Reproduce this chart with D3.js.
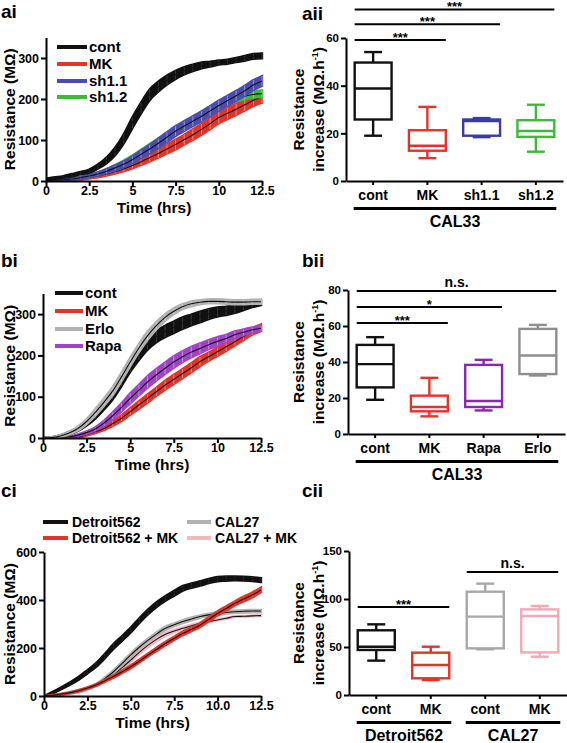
<!DOCTYPE html>
<html><head><meta charset="utf-8">
<script src="https://cdn.jsdelivr.net/npm/d3@7"></script>
<style>
body{margin:0;background:#fff}
svg text{font-family:"Liberation Sans",Arial,Helvetica,sans-serif;font-weight:bold;fill:#000}
</style>
</head><body><svg id="c" width="567" height="743"></svg>
<script>
// ---------- time axis ----------
const time = [0,0.5,1,1.5,2,2.5,3,3.5,4,4.5,5,5.5,6,6.5,7,7.5,8,8.5,9,9.5,10,10.5,11,11.5,12,12.5];
const timeTicks = [0,2.5,5,7.5,10,12.5];
const timeLabelsAB = ["0","2.5","5","7.5","10","12.5"];
const timeLabelsC = ["0","2.5","5.0","7.5","10.0","12.5"];

// ---------- panel ai ----------
const aiCont    = [4,7,10,14,19,24,35,50,72,103,142,178,210,230,246,259,269,276,282,285,289,291,295,299,304,305];
const aiContErr = [2,2,2,3,3,4,5,7,9,11,13,13,13,12,11,10,9,8,7,6,5,5,5,6,6,6];
const aiMK      = [1,1,2,3,5,8,12,17,23,30,38,47,57,67,78,89,101,113,126,140,155,165,175,186,197,205];
const aiMKErr   = [0,1,1,1,2,2,3,4,5,6,7,8,9,10,11,12,12,13,13,14,14,14,14,14,14,14];
const aiSh11    = [2,2,3,5,8,12,17,24,32,41,52,65,78,92,107,122,134,146,158,171,184,196,208,220,234,244];
const aiSh11Err = [1,1,1,2,2,3,4,5,6,7,8,9,10,11,12,12,12,12,12,12,12,12,12,12,12,12];
const aiSh12    = [2,2,3,5,8,12,18,25,34,44,55,68,82,96,110,124,136,148,160,172,184,194,202,207,211,213];
const aiSh12Err = [1,1,1,2,2,3,3,4,5,6,7,8,8,8,8,8,8,8,8,8,8,8,8,8,8,8];
const aiYTicks = [0,100,200,300];

// ---------- panel aii ----------
const aiiCats  = ["cont","MK","sh1.1","sh1.2"];
// [min, q1, median, q3, max]
const aiiStats = [[19,25.8,38.8,49.7,54.1],[9.6,12.7,14.8,21.3,31.1],[18.4,19,25.2,25.8,26.4],[12.3,18.5,21,25.5,32]];
const aiiYTicks = [0,20,40,60];
const aiiSig = [{from:0,to:1,level:59.2,label:"***"},{from:0,to:2,level:65.8,label:"***"},{from:0,to:3,level:72,label:"***"}];
const aiiGroups = [{label:"CAL33",from:0,to:3}];

// ---------- panel bi ----------
const biCont    = [0,1,5,12,21,35,53,76,102,136,172,202,228,246,258,268,278,286,293,300,305,308,312,318,324,328];
const biContErr = [0,1,2,3,4,5,6,7,8,10,12,13,14,14,14,14,14,13,13,12,11,10,9,8,7,6];
const biMK      = [0,0,1,2,3,8,15,23,35,48,64,80,96,112,128,142,156,170,185,197,209,221,233,246,258,267];
const biMKErr   = [0,0,0,1,1,2,3,4,6,7,8,9,10,10,11,11,11,11,11,10,10,10,9,9,8,8];
const biErlo    = [0,1,5,12,23,40,62,87,114,148,184,218,248,272,292,307,318,325,329,331,331,330,329,329,330,330];
const biErloErr = [0,1,2,3,5,6,8,9,10,10,10,10,10,9,8,7,6,6,5,5,5,5,5,5,5,5];
const biRapa    = [0,0,1,3,7,13,22,36,54,74,96,116,136,153,169,184,197,208,217,226,234,241,250,256,262,266];
const biRapaErr = [0,0,1,1,2,3,4,6,8,10,12,13,14,14,14,14,13,13,12,11,10,9,8,7,6,6];
const biYTicks = [0,100,200,300];

// ---------- panel bii ----------
const biiCats  = ["cont","MK","Rapa","Erlo"];
const biiStats = [[19,25.9,38.8,49.5,53.8],[9.8,12.6,15,21.3,31.2],[13.1,15,18.3,38.4,41.2],[32.5,33.3,43.6,58.4,60.6]];
const biiYTicks = [0,20,40,60,80];
const biiSig = [{from:0,to:1,level:61.7,label:"***"},{from:0,to:2,level:70.6,label:"*"},{from:0,to:3,level:79.5,label:"n.s."}];
const biiGroups = [{label:"CAL33",from:0,to:3}];

// ---------- panel ci ----------
const ciDet      = [0,14,32,52,74,101,129,166,206,240,275,315,351,382,407,428,449,460,469,479,487,489,490,489,487,483];
const ciDetErr   = [0,3,4,5,6,7,8,9,10,10,10,10,10,10,10,10,10,9,9,9,9,9,8,8,8,8];
const ciDetMK    = [0,3,8,14,22,33,46,63,81,101,122,146,171,195,219,240,261,278,296,320,344,365,386,404,421,442];
const ciDetMKErr = [0,1,2,2,3,3,4,4,5,5,6,6,6,7,7,7,8,8,8,9,9,9,9,10,10,10];
const ciCal      = [0,3,7,11,18,30,46,72,101,136,171,204,233,259,282,297,310,321,331,338,344,348,351,353,354,354];
const ciCalErr   = [0,1,1,2,2,3,4,5,6,6,7,7,7,7,7,6,6,6,5,5,5,5,5,5,5,5];
const ciCalMK    = [0,3,7,11,18,30,46,65,88,118,150,183,212,237,257,271,282,293,303,310,317,324,331,332,334,335];
const ciCalMKErr = [0,1,1,2,2,3,4,5,6,7,8,8,8,8,7,6,5,4,3,2,2,2,2,2,2,2];
const ciYTicks = [0,200,400,600];

// ---------- panel cii ----------
const ciiCats  = ["cont","MK","cont","MK"];
const ciiStats = [[35.8,46.9,50.3,67.4,73.6],[15.6,17.4,31.2,44.1,50.3],[47.6,48.6,81.6,107.6,116],[39.9,44.4,82.3,89.2,92.7]];
const ciiYTicks = [0,50,100,150];
const ciiSig = [{from:0,to:1,level:91.7,label:"***"},{from:2,to:3,level:128,label:"n.s."}];
const ciiGroups = [{label:"Detroit562",from:0,to:1},{label:"CAL27",from:2,to:3}];

// ---------- colours ----------
const C = {black:"#111", red:"#e3342a", blue:"#4a4cb0", green:"#3dba3a", gray:"#b2b2b2",
           purple:"#a142c9", pink:"#f6b7c0", boxBlue:"#3a3ca4", boxPurple:"#8a28b2", boxGray:"#8e8e8e", boxGray2:"#a8a8a8", boxPink:"#f3a9b5"};

const svg = d3.select("#c");

function styleAxis(g, fs){
  g.attr("font-family",null).attr("font-size",null);
  g.select(".domain").attr("stroke","#000").attr("stroke-width",2);
  g.selectAll(".tick line").attr("stroke","#000").attr("stroke-width",2);
  g.selectAll(".tick text").attr("font-size",fs).attr("fill","#000");
}

function lineChart(cfg){
  const g = svg.append("g");
  const x = d3.scaleLinear().domain([0,12.5]).range([cfg.x0,cfg.x1]);
  const y = d3.scaleLinear().domain([0,cfg.ymax]).range([cfg.y0,cfg.ytop]);
  const clipId = "clip"+cfg.id;
  g.append("clipPath").attr("id",clipId).append("rect")
    .attr("x",cfg.x0).attr("y",cfg.ytop-10).attr("width",cfg.x1-cfg.x0+6).attr("height",cfg.y0-cfg.ytop+10);
  const pg = g.append("g").attr("clip-path",`url(#${clipId})`);
  cfg.series.forEach(s=>{
    const area = d3.area().x((d,i)=>x(time[i])).y0((d,i)=>y(s.v[i]-s.e[i])).y1((d,i)=>y(s.v[i]+s.e[i])).curve(d3.curveMonotoneX);
    pg.append("path").datum(s.v).attr("d",area).attr("fill",s.color).attr("stroke",s.color).attr("stroke-width",2.4);
    // error bar ticks
    pg.selectAll(null).data(s.v).enter().append("line")
      .attr("x1",(d,i)=>x(time[i])).attr("x2",(d,i)=>x(time[i]))
      .attr("y1",(d,i)=>y(d+s.e[i])).attr("y2",(d,i)=>y(d-s.e[i]))
      .attr("stroke", s.tick).attr("stroke-width",0.7).attr("opacity",0.6);
    const line = d3.line().x((d,i)=>x(time[i])).y(d=>y(d)).curve(d3.curveMonotoneX);
    pg.append("path").datum(s.v).attr("d",line).attr("fill","none").attr("stroke","#111").attr("stroke-width",1.1);
  });
  const ya = g.append("g").attr("transform",`translate(${cfg.x0},0)`)
    .call(d3.axisLeft(y).tickValues(cfg.yticks).tickSize(5).tickSizeOuter(0).tickPadding(2));
  styleAxis(ya,12.5);
  const xa = g.append("g").attr("transform",`translate(0,${cfg.y0})`)
    .call(d3.axisBottom(x).tickValues(timeTicks).tickFormat((d,i)=>cfg.xlabels[i]).tickSize(5).tickSizeOuter(0).tickPadding(0));
  styleAxis(xa,12.5);
  g.append("text").attr("x",(cfg.x0+cfg.x1)/2).attr("y",cfg.y0+32).attr("text-anchor","middle").attr("font-size",15.5).text("Time (hrs)");
  g.append("text").attr("transform",`translate(14.5,${(cfg.y0+cfg.ytop)/2}) rotate(-90)`).attr("text-anchor","middle").attr("font-size",15.5).text("Resistance (MΩ)");
  // legend
  cfg.legend.forEach(l=>{
    g.append("line").attr("x1",l.x).attr("x2",l.x+l.w).attr("y1",l.y).attr("y2",l.y).attr("stroke",l.color).attr("stroke-width",4);
    g.append("text").attr("x",l.x+l.w+l.gap).attr("y",l.y+5).attr("font-size",l.fs).text(l.label);
  });
}

function boxChart(cfg){
  const g = svg.append("g");
  const x = d3.scaleBand().domain(cfg.cats.map((c,i)=>i)).range([cfg.x0,cfg.x1]);
  const y = d3.scaleLinear().domain([0,cfg.ymax]).range([cfg.y0,cfg.ytop]);
  const bw = x.bandwidth()*0.68, cw = x.bandwidth()*0.33;
  const cx = i=>x(i)+x.bandwidth()/2;
  cfg.stats.forEach((s,i)=>{
    const c = cfg.colors[i], xc = cx(i);
    const bg = g.append("g").attr("stroke",c).attr("stroke-width",2.4).attr("fill","none");
    bg.append("line").attr("x1",xc).attr("x2",xc).attr("y1",y(s[0])).attr("y2",y(s[1]));
    bg.append("line").attr("x1",xc).attr("x2",xc).attr("y1",y(s[3])).attr("y2",y(s[4]));
    bg.append("line").attr("x1",xc-cw/2).attr("x2",xc+cw/2).attr("y1",y(s[0])).attr("y2",y(s[0]));
    bg.append("line").attr("x1",xc-cw/2).attr("x2",xc+cw/2).attr("y1",y(s[4])).attr("y2",y(s[4]));
    bg.append("rect").attr("x",xc-bw/2).attr("width",bw).attr("y",y(s[3])).attr("height",y(s[1])-y(s[3])).attr("fill","#fff");
    bg.append("line").attr("x1",xc-bw/2).attr("x2",xc+bw/2).attr("y1",y(s[2])).attr("y2",y(s[2]));
  });
  const ya = g.append("g").attr("transform",`translate(${cfg.x0},0)`)
    .call(d3.axisLeft(y).tickValues(cfg.yticks).tickSize(5).tickSizeOuter(0).tickPadding(2));
  styleAxis(ya,11.5);
  const xa = g.append("g").attr("transform",`translate(0,${cfg.y0})`)
    .call(d3.axisBottom(x).tickFormat(i=>cfg.cats[i]).tickSize(4).tickSizeOuter(0).tickPadding(5));
  styleAxis(xa,14);
  // significance bars
  cfg.sig.forEach(s=>{
    const xl = cx(s.from)-bw/2, xr = cx(s.to)+bw/2, yy = y(s.level);
    g.append("line").attr("x1",xl).attr("x2",xr).attr("y1",yy).attr("y2",yy).attr("stroke","#000").attr("stroke-width",2);
    const star = s.label.indexOf("*")>=0;
    g.append("text").attr("x",(xl+xr)/2).attr("y",star?yy+2:yy-4).attr("text-anchor","middle")
      .attr("font-size",star?13:14).text(s.label);
  });
  // group underline
  cfg.groups.forEach(gr=>{
    const xl = cx(gr.from)-bw/2-1, xr = cx(gr.to)+bw/2+2;
    g.append("line").attr("x1",xl).attr("x2",xr).attr("y1",cfg.y0+27.5).attr("y2",cfg.y0+27.5).attr("stroke","#000").attr("stroke-width",3);
    g.append("text").attr("x",(xl+xr)/2).attr("y",cfg.y0+46).attr("text-anchor","middle").attr("font-size",16).text(gr.label);
  });
  const mid = (cfg.y0+cfg.ytop)/2;
  g.append("text").attr("transform",`translate(304,${mid}) rotate(-90)`).attr("text-anchor","middle").attr("font-size",15.5).text("Resistance");
  const t2 = g.append("text").attr("transform",`translate(324,${mid}) rotate(-90)`).attr("text-anchor","middle").attr("font-size",15.5);
  t2.append("tspan").text("increase (MΩ.h");
  t2.append("tspan").attr("font-size",9).attr("dy",-6).text("-1");
  t2.append("tspan").attr("dy",6).text(")");
}

function title(t,x,yb){ svg.append("text").attr("x",x).attr("y",yb).attr("font-size",19).text(t); }

// ---------- draw ----------
title("ai",1,18); title("aii",302,20);
title("bi",1,267); title("bii",302,267);
title("ci",1,497); title("cii",302,497);

lineChart({id:"ai",x0:46,x1:262,y0:181,ytop:37.5,ymax:350,yticks:aiYTicks,xlabels:timeLabelsAB,
  series:[
    {v:aiMK,e:aiMKErr,color:C.red,tick:"#fff"},
    {v:aiSh12,e:aiSh12Err,color:C.green,tick:"#fff"},
    {v:aiSh11,e:aiSh11Err,color:C.blue,tick:"#fff"},
    {v:aiCont,e:aiContErr,color:C.black,tick:"#777"}],
  legend:[
    {label:"cont",color:C.black,x:57,y:47,w:30,gap:2,fs:15},
    {label:"MK",color:C.red,x:57,y:64,w:30,gap:2,fs:15},
    {label:"sh1.1",color:C.blue,x:57,y:81,w:30,gap:2,fs:15},
    {label:"sh1.2",color:C.green,x:57,y:97,w:30,gap:2,fs:15}]});

boxChart({x0:346,x1:563,y0:181,ytop:38,ymax:60,yticks:aiiYTicks,cats:aiiCats,stats:aiiStats,
  colors:[C.black,C.red,C.boxBlue,C.green],sig:aiiSig,groups:aiiGroups});

lineChart({id:"bi",x0:43,x1:261,y0:438,ytop:293.5,ymax:350,yticks:biYTicks,xlabels:timeLabelsAB,
  series:[
    {v:biMK,e:biMKErr,color:C.red,tick:"#fff"},
    {v:biRapa,e:biRapaErr,color:C.purple,tick:"#fff"},
    {v:biCont,e:biContErr,color:C.black,tick:"#777"},
    {v:biErlo,e:biErloErr,color:C.gray,tick:"#eee"}],
  legend:[
    {label:"cont",color:C.black,x:55,y:293,w:28,gap:2,fs:15},
    {label:"MK",color:C.red,x:55,y:311,w:28,gap:2,fs:15},
    {label:"Erlo",color:C.gray,x:55,y:329,w:28,gap:2,fs:15},
    {label:"Rapa",color:C.purple,x:55,y:346,w:28,gap:2,fs:15}]});

boxChart({x0:348,x1:565,y0:434,ytop:290,ymax:80,yticks:biiYTicks,cats:biiCats,stats:biiStats,
  colors:[C.black,C.red,C.boxPurple,C.boxGray],sig:biiSig,groups:biiGroups});

lineChart({id:"ci",x0:44,x1:261,y0:696,ytop:552,ymax:600,yticks:ciYTicks,xlabels:timeLabelsC,
  series:[
    {v:ciCalMK,e:ciCalMKErr,color:C.pink,tick:"#fff"},
    {v:ciCal,e:ciCalErr,color:C.gray,tick:"#eee"},
    {v:ciDet,e:ciDetErr,color:C.black,tick:"#666"},
    {v:ciDetMK,e:ciDetMKErr,color:C.red,tick:"#f88"}],
  legend:[
    {label:"Detroit562",color:C.black,x:43,y:522,w:25,gap:4,fs:14},
    {label:"Detroit562 + MK",color:C.red,x:43,y:538,w:25,gap:4,fs:14},
    {label:"CAL27",color:C.gray,x:187,y:522,w:24,gap:4,fs:14},
    {label:"CAL27 + MK",color:C.pink,x:187,y:538,w:24,gap:4,fs:14}]});

boxChart({x0:349,x1:567,y0:695,ytop:551,ymax:150,yticks:ciiYTicks,cats:ciiCats,stats:ciiStats,
  colors:[C.black,C.red,C.boxGray2,C.boxPink],sig:ciiSig,groups:ciiGroups});
</script>
</body></html>
